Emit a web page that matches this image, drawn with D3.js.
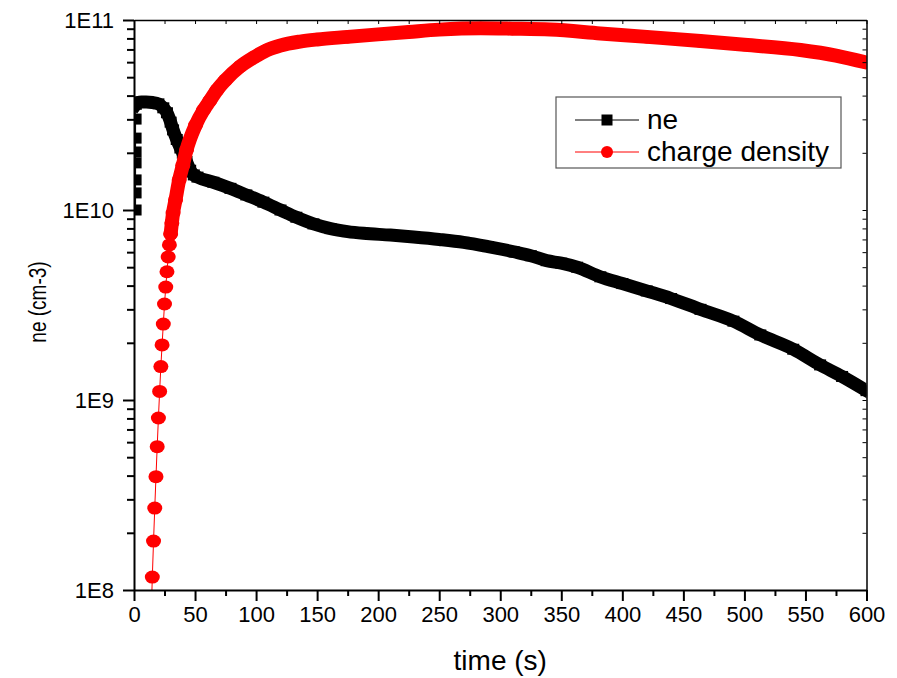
<!DOCTYPE html>
<html><head><meta charset="utf-8">
<script src="https://cdn.jsdelivr.net/npm/d3@7/dist/d3.min.js"></script>
<style>
body{margin:0;background:#fff}
text{font-family:"Liberation Sans",Arial,Helvetica,sans-serif;fill:#000}
</style>
</head><body>
<svg id="chart" width="897" height="678"></svg>
<script>
// ---- data ----
const neTime = [1.3,1.3,1.3,1.3,1.3,1.3,1.3,1.5,3,6,10,15,20,24,27,30,32,35,38,40,43,46,49,52,65,79,92,106,120,133,147,161,175,188,210,229,250,270,290,311,325,338,350,363,382,400,420,440,464,491,513,540,562,580,600];
const neValue = [1.0e10,1.23e10,1.44e10,1.77e10,2.02e10,2.39e10,3.01e10,3.6e10,3.68e10,3.7e10,3.7e10,3.68e10,3.62e10,3.45e10,3.25e10,2.9e10,2.64e10,2.35e10,2.12e10,1.99e10,1.8e10,1.62e10,1.53e10,1.49e10,1.40e10,1.30e10,1.20e10,1.10e10,1.0e10,9.16e9,8.45e9,7.98e9,7.7e9,7.54e9,7.38e9,7.21e9,7.0e9,6.76e9,6.42e9,6.03e9,5.75e9,5.41e9,5.25e9,5.0e9,4.45e9,4.1e9,3.75e9,3.42e9,3.0e9,2.6e9,2.2e9,1.85e9,1.53e9,1.33e9,1.12e9];
const chargeTime = [14,15,16,17,18,19,20,21,22,23,24,25,26,27,28,29,30,31,32,34,37,40,43,50.5,57,62,68,75,87,98,109,120,136,150,175,200,225,250,284,310,341,382,420,464,500,546,575,600];
const chargeValue = [7e7,1.17e8,1.81e8,2.70e8,3.95e8,5.68e8,8.04e8,1.11e9,1.50e9,1.95e9,2.51e9,3.20e9,3.93e9,4.73e9,5.66e9,6.55e9,7.48e9,8.55e9,9.64e9,1.13e10,1.44e10,1.72e10,2.07e10,2.8e10,3.36e10,3.75e10,4.28e10,4.83e10,5.7e10,6.35e10,6.95e10,7.35e10,7.7e10,7.9e10,8.15e10,8.4e10,8.65e10,8.9e10,9.05e10,9.0e10,8.9e10,8.5e10,8.15e10,7.75e10,7.4e10,6.95e10,6.5e10,5.97e10];
const seriesNames = ["ne","charge density"];
const xTickValues = [0,50,100,150,200,250,300,350,400,450,500,550,600];
const xMinorTickValues = [25,75,125,175,225,275,325,375,425,475,525,575];
const yTickValues = [1e8,1e9,1e10,1e11];
const yTickLabels = ["1E8","1E9","1E10","1E11"];
const xTitle = "time (s)";
const yTitle = "ne (cm-3)";

// ---- layout ----
const L = 134, R = 866.5, T = 20, B = 590;
const svg = d3.select("#chart");
const x = d3.scaleLinear().domain([0,600]).range([L,R]);
const y = d3.scaleLog().domain([1e8,1e11]).range([B,T]);

const yMinor = [];
for (let e = 8; e < 11; e++) for (let m = 2; m <= 9; m++) yMinor.push(m*Math.pow(10,e));

svg.append("defs").append("clipPath").attr("id","plotclip")
  .append("rect").attr("x",L).attr("y",T).attr("width",R-L).attr("height",B-T);

const plot = svg.append("g").attr("clip-path","url(#plotclip)");

const ne = neTime.map((t,i)=>({t, v: neValue[i]}));
const ch = chargeTime.map((t,i)=>({t, v: chargeValue[i]}));

const thin = d3.line().x(d=>x(d.t)).y(d=>y(d.v));
const band = d3.line().x(d=>x(d.t)).y(d=>y(d.v)).curve(d3.curveMonotoneX);

// ne series: thin line, dense marker trail, square markers
plot.append("path").datum(ne).attr("d",thin).attr("fill","none").attr("stroke","#000").attr("stroke-width",1);
plot.append("path").datum(ne.slice(7)).attr("d",band).attr("fill","none")
  .attr("stroke","#000").attr("stroke-width",13).attr("stroke-linejoin","round").attr("stroke-linecap","square");
plot.selectAll("rect.ne").data(ne).join("rect").attr("class","ne")
  .attr("x",d=>x(d.t)-6).attr("y",d=>y(d.v)-5.5).attr("width",12).attr("height",11).attr("fill","#000");

// charge density series
plot.append("path").datum(ch).attr("d",thin).attr("fill","none").attr("stroke","#ff0000").attr("stroke-width",1);
plot.append("path").datum(ch.slice(16)).attr("d",band).attr("fill","none")
  .attr("stroke","#ff0000").attr("stroke-width",14).attr("stroke-linejoin","round").attr("stroke-linecap","round");
plot.selectAll("ellipse.ch").data(ch).join("ellipse").attr("class","ch")
  .attr("cx",d=>x(d.t)).attr("cy",d=>y(d.v)).attr("rx",7.5).attr("ry",6.5).attr("fill","#ff0000");

// ---- axes ----
const axStyle = g => { g.selectAll("path.domain").attr("stroke","#000").attr("stroke-width",2);
  g.selectAll(".tick line").attr("stroke","#000").attr("stroke-width",2); };
const lblStyle = g => g.selectAll(".tick text").attr("font-size",22)
  .attr("font-family","Liberation Sans, Arial, sans-serif").attr("fill","#000");

// bottom
svg.append("g").attr("transform",`translate(0,${B})`)
  .call(d3.axisBottom(x).tickValues(xMinorTickValues).tickSize(6).tickFormat(""))
  .call(axStyle).call(g=>g.select("path.domain").remove());
svg.append("g").attr("transform",`translate(0,${B})`)
  .call(d3.axisBottom(x).tickValues(xTickValues).tickSize(11).tickSizeOuter(0).tickPadding(5).tickFormat(d=>String(d)))
  .call(axStyle).call(lblStyle);

// left
svg.append("g").attr("transform",`translate(${L},0)`)
  .call(d3.axisLeft(y).tickValues(yMinor).tickSize(7).tickFormat(""))
  .call(axStyle).call(g=>g.select("path.domain").remove());
svg.append("g").attr("transform",`translate(${L},0)`)
  .call(d3.axisLeft(y).tickValues(yTickValues).tickSize(11).tickSizeOuter(0).tickPadding(9)
    .tickFormat((d,i)=>yTickLabels[i]))
  .call(axStyle).call(lblStyle);

// top (inward ticks)
svg.append("g").attr("transform",`translate(0,${T})`)
  .call(d3.axisBottom(x).tickValues(xTickValues.concat(xMinorTickValues)).tickSize(4).tickSizeOuter(0).tickFormat(""))
  .call(g=>{ g.select("path.domain").attr("stroke","#000").attr("stroke-width",1.5);
    g.selectAll(".tick line").attr("stroke","#000").attr("stroke-width",1); });
// right (inward ticks)
svg.append("g").attr("transform",`translate(${R},0)`)
  .call(d3.axisLeft(y).tickValues(yTickValues.concat(yMinor)).tickSize(4).tickSizeOuter(0).tickFormat(""))
  .call(g=>{ g.select("path.domain").attr("stroke","#000").attr("stroke-width",1.5);
    g.selectAll(".tick line").attr("stroke","#000").attr("stroke-width",1); });

// titles
svg.append("text").attr("x",(L+R)/2).attr("y",670).attr("text-anchor","middle")
  .attr("font-size",28).text(xTitle);
svg.append("text").attr("transform","translate(46,302) rotate(-90) scale(1,1.25)").attr("text-anchor","middle")
  .attr("font-size",19).text(yTitle);

// ---- legend ----
const lg = svg.append("g");
lg.append("rect").attr("x",556).attr("y",97).attr("width",285).attr("height",71)
  .attr("fill","#fff").attr("stroke","#555").attr("stroke-width",1.2);
const rows = [{name:seriesNames[0], color:"#000", y:120, shape:"square"},
              {name:seriesNames[1], color:"#ff0000", y:152, shape:"circle"}];
rows.forEach(r=>{
  lg.append("line").attr("x1",575).attr("x2",639).attr("y1",r.y).attr("y2",r.y)
    .attr("stroke",r.color).attr("stroke-width",1);
  if (r.shape==="square") lg.append("rect").attr("x",601.5).attr("y",r.y-5.5).attr("width",11).attr("height",11).attr("fill",r.color);
  else lg.append("circle").attr("cx",607).attr("cy",r.y).attr("r",6).attr("fill",r.color);
  lg.append("text").attr("x",647).attr("y",r.y+9).attr("font-size",28).text(r.name);
});
</script>
</body></html>
